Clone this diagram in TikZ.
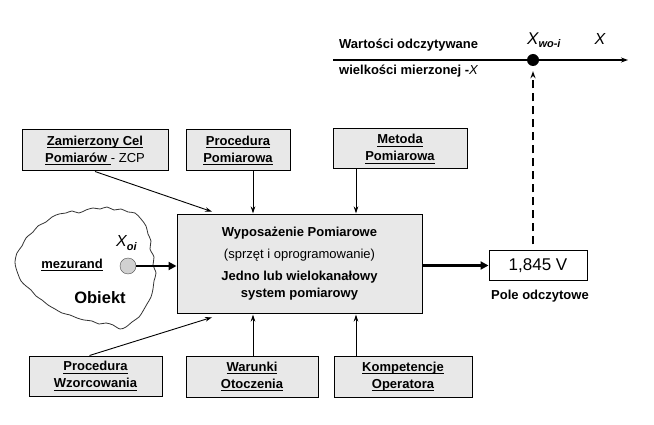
\documentclass[tikz,border=0pt]{standalone}
\usepackage{fontspec}
\setmainfont{Liberation Sans}
\newcommand{\uln}[1]{\setbox0\hbox{#1}\rlap{\vrule height -2.2pt depth 3.3pt width \wd0}\box0}
\usetikzlibrary{arrows.meta}
\begin{document}
\begin{tikzpicture}[
    x=1pt, y=-1pt,
    every node/.style={font=\fontsize{13}{17}\selectfont\bfseries},
    box/.style={draw, line width=1pt, fill=black!9, align=center, inner sep=0pt},
    feed/.style={-{Stealth[length=7pt,width=4.5pt]}, line width=0.9pt, shorten >=1pt},
    signal/.style={-{Triangle[length=8pt,width=8pt]}, line width=2.4pt}
]
\useasboundingbox (0,0) rectangle (654,425);
\draw[line width=0.8pt, black!80]
    plot[smooth cycle, tension=0.55] coordinates {(15,262) (17,253) (22,246) (26,238) (33,232)
      (38,226) (46,222) (52,217) (59,214) (66,213) (72,211) (79,213) (86,210) (93,208)
      (100,209) (107,207) (114,210) (121,209) (128,212) (135,213) (141,219) (146,226)
      (148,234) (151,241) (150,249) (154,257) (153,265) (156,273) (154,281) (153,289)
      (151,297) (147,304) (143,311) (139,317) (132,322) (126,327) (120,329) (113,325)
      (106,323) (99,324) (92,321) (84,320) (77,318) (70,315) (62,313) (55,309) (48,305)
      (42,300) (36,296) (31,290) (26,286) (21,281) (18,274) (16,268)};
\node[box, minimum width=146pt, minimum height=41pt] (zcp) at (95,150.5)
    {\uln{Zamierzony Cel}\\\uln{Pomiarów\ }{\mdseries - ZCP}};
\node[box, minimum width=104pt, minimum height=41pt] (procp) at (238,150.5)
    {\uln{Procedura}\\\uln{Pomiarowa}};
\node[box, minimum width=134pt, minimum height=40pt] (metoda) at (400,149)
    {\uln{Metoda}\\\uln{Pomiarowa}};
\node[box, minimum width=245pt, minimum height=98pt] (main) at (299.5,264)
    {Wyposażenie Pomiarowe\\[5pt]{\mdseries (sprzęt i oprogramowanie)}\\[5pt]
     Jedno lub wielokanałowy\\system pomiarowy};
\node[box, minimum width=133pt, minimum height=40pt] (wzorc) at (95.5,376)
    {\uln{Procedura}\\\uln{Wzorcowania}};
\node[box, minimum width=132pt, minimum height=41pt] (warunki) at (252,376.5)
    {\uln{Warunki}\\\uln{Otoczenia}};
\node[box, minimum width=138pt, minimum height=41pt] (komp) at (403,376.5)
    {\uln{Kompetencje}\\\uln{Operatora}};
\node[box, fill=white, minimum width=98pt, minimum height=29pt,
      font=\fontsize{17}{17}\selectfont] (odczyt) at (538,265.5) {1,845 V};
\node (pole) at (540,296) {Pole odczytowe};
\node[circle, draw=black!70, fill=black!18, minimum size=16pt, inner sep=0pt] (xoi) at (128,266) {};
\node[anchor=base west, inner sep=0pt] (xoilab) at (116,247)
    {\fontsize{16}{16}\selectfont\mdseries\itshape X\raisebox{-4pt}{\fontsize{11}{11}\selectfont\bfseries\itshape oi}};
\node (mez) at (72,265) {\uln{mezurand}};
\node[font=\fontsize{16.5}{17}\selectfont\bfseries] (obiekt) at (100,298) {Obiekt};
\coordinate (axl) at (333,60);
\coordinate (axr) at (628,60);
\node[circle, fill=black, minimum size=12pt, inner sep=0pt] (wo) at (533,60) {};
\node[anchor=base west, inner sep=0pt] (wart) at (339,49) {Wartości odczytywane};
\node[anchor=base west, inner sep=0pt] (wielk) at (339,75) {wielkości mierzonej -{\mdseries\itshape X}};
\node[anchor=base west, inner sep=0pt] (xwo) at (527,45)
    {\fontsize{17}{17}\selectfont\mdseries\itshape X\raisebox{-3pt}{\fontsize{11}{11}\selectfont\bfseries\itshape wo-i}};
\node[anchor=base, inner sep=0pt, font=\fontsize{16}{16}\selectfont\itshape] (xos) at (600,45) {X};
\coordinate (c1) at (253,0);
\coordinate (c2) at (356,0);
\coordinate (zin) at (213,212);
\coordinate (zout) at (213,317);
\draw[-{Stealth[length=7pt,width=5pt]}, line width=1.2pt] (axl) -- (axr);
\draw[feed] (zcp.south) -- (zin);
\draw[feed] (procp.south -| c1) -- (main.north -| c1);
\draw[feed] (metoda.south -| c2) -- (main.north -| c2);
\draw[feed] ([xshift=-6pt]wzorc.north) -- (zout);
\draw[feed] (warunki.north -| c1) -- (main.south -| c1);
\draw[feed] (komp.north -| c2) -- (main.south -| c2);
\draw[signal] (xoi.east) -- (xoi.east -| main.west);
\draw[signal] (main.east |- odczyt.west) -- (odczyt.west);
\draw[-{Stealth[length=7pt,width=5pt]}, line width=2pt, dash pattern=on 8pt off 5pt,
      shorten <=6pt, shorten >=5pt] (wo |- odczyt.north) -- (wo.south);
\end{tikzpicture}
\end{document}
